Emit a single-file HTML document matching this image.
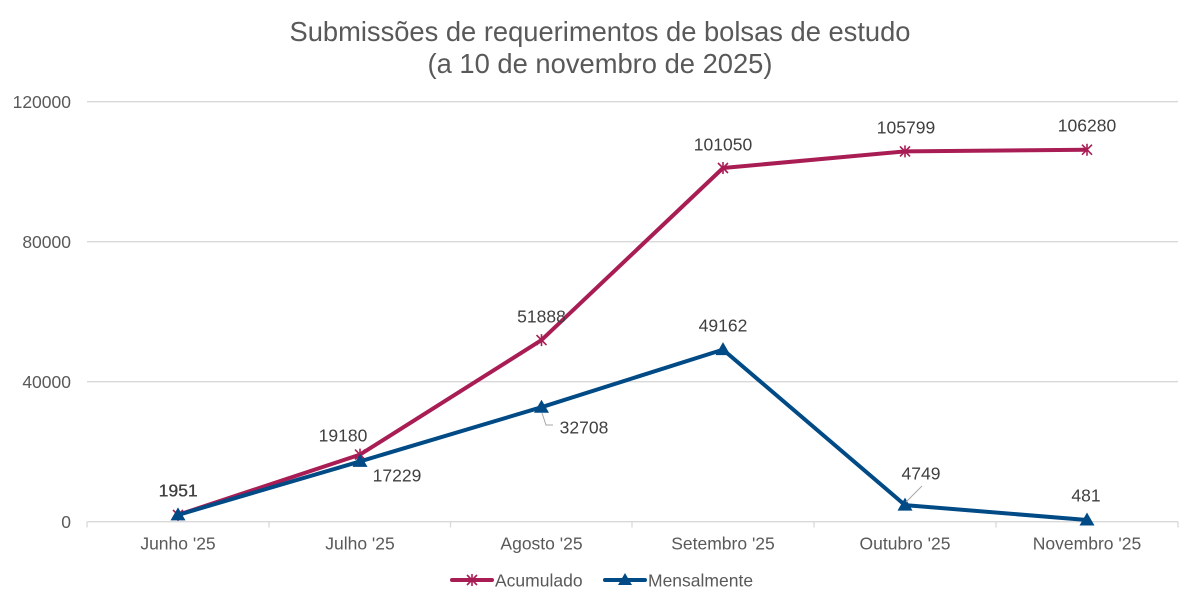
<!DOCTYPE html>
<html><head><meta charset="utf-8"><style>
html,body{margin:0;padding:0;background:#fff;}
svg{display:block;font-family:"Liberation Sans",Arial,sans-serif;}
</style></head><body>
<svg width="1200" height="608" viewBox="0 0 1200 608" xmlns="http://www.w3.org/2000/svg">
<rect width="1200" height="608" fill="#fff"/>
<!-- title -->
<text x="600" y="41" text-anchor="middle" font-size="27.3" fill="#595959" textLength="621" lengthAdjust="spacingAndGlyphs">Submissões de requerimentos de bolsas de estudo</text>
<text x="600" y="73" text-anchor="middle" font-size="27.3" fill="#595959" textLength="345" lengthAdjust="spacingAndGlyphs">(a 10 de novembro de 2025)</text>
<!-- gridlines -->
<g stroke="#d9d9d9" stroke-width="1.3">
<line x1="87" y1="101.7" x2="1178" y2="101.7"/>
<line x1="87" y1="241.7" x2="1178" y2="241.7"/>
<line x1="87" y1="381.7" x2="1178" y2="381.7"/>
<line x1="87" y1="521.7" x2="1178" y2="521.7"/>
<line x1="87" y1="521.7" x2="87" y2="527.5"/>
<line x1="269" y1="521.7" x2="269" y2="527.5"/>
<line x1="450.5" y1="521.7" x2="450.5" y2="527.5"/>
<line x1="632" y1="521.7" x2="632" y2="527.5"/>
<line x1="814" y1="521.7" x2="814" y2="527.5"/>
<line x1="996" y1="521.7" x2="996" y2="527.5"/>
<line x1="1178" y1="521.7" x2="1178" y2="527.5"/>
</g>
<!-- y labels -->
<g font-size="17.5" fill="#595959" text-anchor="end">
<text x="71" y="108">120000</text>
<text x="71" y="248">80000</text>
<text x="71" y="388">40000</text>
<text x="71" y="528">0</text>
</g>
<!-- x labels -->
<g font-size="17.5" fill="#595959" text-anchor="middle">
<text x="178" y="549.5">Junho '25</text>
<text x="360" y="549.5">Julho '25</text>
<text x="541.5" y="549.5">Agosto '25</text>
<text x="723" y="549.5">Setembro '25</text>
<text x="905" y="549.5">Outubro '25</text>
<text x="1087" y="549.5">Novembro '25</text>
</g>
<!-- Acumulado -->
<polyline fill="none" stroke="#A91D55" stroke-width="4" stroke-linejoin="round" points="178,514.9 360,454.6 541.5,340.1 723,168 905,151.4 1087,149.7"/>
<g stroke="#A91D55" stroke-width="1.6">
<path d="M173,509.9l10,10M183,509.9l-10,10M178,508.9v12"/>
<path d="M355,449.6l10,10M365,449.6l-10,10M360,448.6v12"/>
<path d="M536.5,335.1l10,10M546.5,335.1l-10,10M541.5,334.1v12"/>
<path d="M718,163l10,10M728,163l-10,10M723,162v12"/>
<path d="M900,146.4l10,10M910,146.4l-10,10M905,145.4v12"/>
<path d="M1082,144.7l10,10M1092,144.7l-10,10M1087,143.7v12"/>
</g>
<!-- Mensalmente -->
<polyline fill="none" stroke="#004A86" stroke-width="4" stroke-linejoin="round" points="178,514.9 360,461.4 541.5,407.2 723,349.6 905,505.1 1087,520"/>
<g fill="#004A86">
<path d="M178,507.4l7.5,13h-15z"/>
<path d="M360,453.9l7.5,13h-15z"/>
<path d="M541.5,399.7l7.5,13h-15z"/>
<path d="M723,342.1l7.5,13h-15z"/>
<path d="M905,497.6l7.5,13h-15z"/>
<path d="M1087,512.5l7.5,13h-15z"/>
</g>
<!-- leader lines -->
<g stroke="#a6a6a6" stroke-width="1" fill="none">
<path d="M542,413 L546,425 L553,425"/>
<path d="M906,502 L922,486"/>
</g>
<!-- data labels -->
<g font-size="17.5" fill="#404040" text-anchor="middle">
<text x="178" y="496.5">1951</text>
<text x="178.4" y="496.5">1951</text>
<text x="343" y="441.5">19180</text>
<text x="541.5" y="322.5">51888</text>
<text x="723" y="150.5">101050</text>
<text x="906" y="133.5">105799</text>
<text x="1087" y="131.5">106280</text>
<text x="397" y="481.5">17229</text>
<text x="584" y="433.5">32708</text>
<text x="723" y="331.5">49162</text>
<text x="921" y="479.5">4749</text>
<text x="1086" y="501.5">481</text>
</g>
<!-- legend -->
<line x1="452" y1="580" x2="492" y2="580" stroke="#A91D55" stroke-width="4" stroke-linecap="round"/>
<path d="M467,575l10,10M477,575l-10,10M472,574v12" stroke="#A91D55" stroke-width="1.6"/>
<text x="495" y="586.5" font-size="17.5" fill="#595959">Acumulado</text>
<line x1="605" y1="580" x2="645" y2="580" stroke="#004A86" stroke-width="4" stroke-linecap="round"/>
<path d="M625,573l7,12h-14z" fill="#004A86"/>
<text x="648" y="586.5" font-size="17.5" fill="#595959">Mensalmente</text>
</svg>
</body></html>
